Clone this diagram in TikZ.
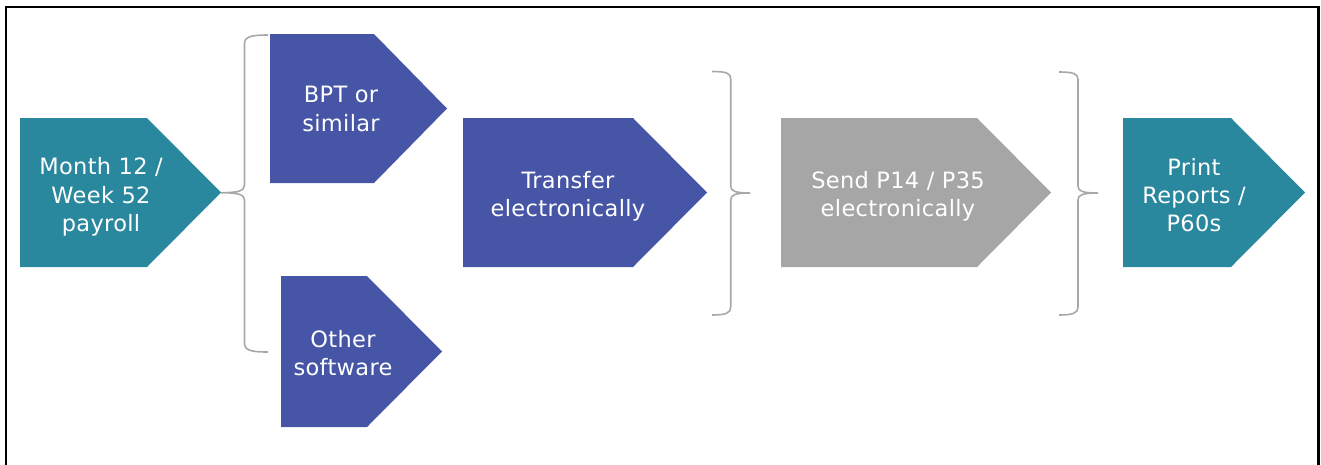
\documentclass[tikz,border=0pt]{standalone}
\usepackage{fontspec}
\newfontfamily\lblfont[LetterSpace=1.5]{DejaVu Sans}
\definecolor{cteal}{HTML}{2A889E}
\definecolor{cblue}{HTML}{4755A6}
\definecolor{cgray}{HTML}{A6A6A6}
\definecolor{cbrace}{HTML}{A8A8A8}
\tikzset{
  lbl/.style={text=white, align=center, inner sep=0pt, font=\lblfont\fontsize{22.5}{28.3}\selectfont},
  bracestroke/.style={draw=cbrace, line width=1.6pt},
  frame/.style={draw=black, line width=2.2pt}
}
\begin{document}
\begin{tikzpicture}[x=1pt,y=-1pt]
\useasboundingbox (0,0) rectangle (1321,464);
\draw[frame] (6,470) -- (6,7) -- (1318.5,7) -- (1318.5,470);
% shapes
\fill[cteal] (20,118) -- (147,118) -- (221,192.5) -- (147,267) -- (20,267) -- cycle;
\fill[cblue] (270,34) -- (374,34) -- (447,108.5) -- (374,183) -- (270,183) -- cycle;
\fill[cblue] (281,276) -- (367,276) -- (442,351.5) -- (367,427) -- (281,427) -- cycle;
\fill[cblue] (463,118) -- (633,118) -- (707,192.5) -- (633,267) -- (463,267) -- cycle;
\fill[cgray] (781,118) -- (977,118) -- (1051,192.5) -- (977,267) -- (781,267) -- cycle;
\fill[cteal] (1123,118) -- (1231,118) -- (1305,192.5) -- (1231,267) -- (1123,267) -- cycle;
% labels
\node[lbl] (month) at (101,197) {Month 12 /\\Week 52\\payroll};
\node[lbl] (bpt) at (341,109) {BPT or\\similar};
\node[lbl] (other) at (343,353) {Other\\software};
\node[lbl] (transfer) at (568,196.5) {Transfer\\electronically};
\node[lbl] (send) at (898,196.5) {Send P14 / P35\\electronically};
\node[lbl] (print) at (1194,195) {Print\\Reports /\\P60s};
% braces
\draw[bracestroke] (268,35) .. controls (250,35) and (244.5,37) .. (244.5,44) -- (244.5,185)
  .. controls (244.5,191) and (238,192.7) .. (221,192.7)
  .. controls (238,192.7) and (244.5,194.5) .. (244.5,200) -- (244.5,343)
  .. controls (244.5,350) and (250,352) .. (268,352);
\draw[bracestroke] (712,71.5) .. controls (726,71.5) and (730.7,73) .. (730.7,79) -- (730.7,186)
  .. controls (730.7,191) and (735,193) .. (750,193)
  .. controls (735,193) and (730.7,195) .. (730.7,200) -- (730.7,307)
  .. controls (730.7,313) and (726,315) .. (712,315);
\draw[bracestroke] (1059,72) .. controls (1073,72) and (1078,73.5) .. (1078,79.5) -- (1078,186)
  .. controls (1078,191) and (1082,193) .. (1098,193)
  .. controls (1082,193) and (1078,195) .. (1078,200) -- (1078,307)
  .. controls (1078,313) and (1073,315) .. (1059,315);
\end{tikzpicture}
\end{document}
